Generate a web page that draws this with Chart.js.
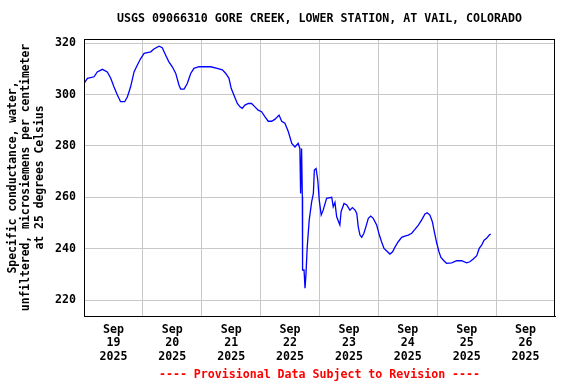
<!DOCTYPE html>
<html>
<head>
<meta charset="utf-8">
<script src="https://cdn.jsdelivr.net/npm/chart.js@4.4.1/dist/chart.umd.min.js"></script>
<style>
html,body{margin:0;padding:0;background:#fff;}
#wrap{width:576px;height:384px;}
</style>
</head>
<body>
<div id="wrap"><canvas id="c" width="576" height="384"></canvas></div>
<script>
// Hours since 2025-09-19 00:00
const hours = [0,1.4,4.1,5.4,7.5,9.5,10.9,12.2,13.6,14.9,16.6,17.7,19,20.4,21.7,23.1,24.5,27.2,28.5,30.6,31.9,33.3,34.6,36,37.4,38.7,39.4,40.8,42.1,43.5,44.8,46.9,48.9,51.6,54.3,56.4,57.8,59.1,60,61.1,62.5,63.6,64.5,65.6,67,68.3,69.7,71,72.4,73.8,75.1,76.5,77.9,79.5,80.6,81.9,83.3,84.7,86,87.3,88,88.3,88.7,89,89.1,89.7,90.1,90.5,91,91.8,92.8,93.5,93.9,94.6,95.3,95.9,96.7,97.5,98.9,101,101.6,102.3,103,104.3,104.8,106,107.1,108.4,109.4,110.5,111.2,111.8,112.5,113.2,114.1,114.9,115.9,116.9,117.9,119.3,120.4,121.3,122.3,123.4,124.7,125.8,126.8,128.1,129.5,130.8,132.2,133.6,134.9,136.3,137.6,139,139.9,141,142,142.8,143.8,144.7,145.5,146.7,147.8,149.9,151.9,153.9,156,157.3,158.7,160.1,161.1,162.1,163.1,164.1,165.2,165.8];
// Specific conductance, microsiemens per cm at 25 C
const conductance = [304.3,306.3,306.9,308.8,309.8,308.8,306.3,303,299.8,297.2,297.2,299.1,303,308.8,311.4,314,316,316.6,317.7,318.8,318.2,315.3,312.7,310.8,308.2,303.7,302.1,302.1,304.3,308.2,310.2,310.8,310.8,310.8,310.2,309.6,308.2,306.3,302.4,299.8,296.5,295.2,294.6,295.9,296.5,296.5,295.2,293.9,293.3,291.3,289.6,289.6,290.4,292,289.6,288.8,285.5,281,279.6,281,279,261.5,279,260.2,231.7,231.7,224.6,230.4,240.7,251.1,258.2,261.5,270.6,271.2,266.7,258.9,253.1,255,259.6,260,256.3,258,252.4,249.2,254.4,257.6,257,255,256,255,253.7,248.5,245.3,244.4,246,248.5,251.8,252.7,251.8,249.2,245.3,242.7,240.1,239.1,237.9,238.8,240.7,242.7,244.4,244.9,245.3,246,247.5,249.2,251.1,253.5,254,253.1,250.5,246.6,242.1,238.8,236.6,235.3,234.3,234.5,235.3,235.3,234.5,234.9,236,237.3,240.1,241.4,243.3,244,245.3,245.7];
const dayLabels = ['19','20','21','22','23','24','25','26'];
const monthLabel = 'Sep';
const yearLabel = '2025';
const yTicks = [220,240,260,280,300,320];
const titleText = 'USGS 09066310 GORE CREEK, LOWER STATION, AT VAIL, COLORADO';
const yTitle = ['Specific conductance, water,','unfiltered, microsiemens per centimeter','at 25 degrees Celsius'];
const footerText = '---- Provisional Data Subject to Revision ----';

const FONT = 'DejaVu Sans Mono';
const points = hours.map((h,i)=>({x:h,y:conductance[i]}));

const framePlugin = {
  id:'frame',
  afterDraw(chart){
    const {ctx, chartArea:a} = chart;
    ctx.save();
    ctx.strokeStyle='#000'; ctx.lineWidth=1;
    ctx.strokeRect(Math.round(a.left)+0.5, Math.round(a.top)+0.5, Math.round(a.right-a.left)-1, Math.round(a.bottom-a.top));
    ctx.fillStyle='#000';
    ctx.font='bold 11.6px "'+FONT+'"';
    ctx.textAlign='center'; ctx.textBaseline='middle';
    const cx=(a.left+a.right)/2;
    ctx.fillText(titleText, cx, 19);
    ctx.fillStyle='#ff0000';
    ctx.fillText(footerText, cx, 375);
    ctx.restore();
  }
};

new Chart(document.getElementById('c'), {
  type:'line',
  data:{datasets:[{data:points, borderColor:'#0000ff', borderWidth:1.3, pointRadius:0, tension:0, fill:false}]},
  options:{
    responsive:false, animation:false,
    layout:{padding:{top:39,right:21,left:0,bottom:0}},
    plugins:{legend:{display:false}, tooltip:{enabled:false}},
    scales:{
      x:{type:'linear', min:0, max:192,
        afterBuildTicks(axis){ const t=[]; for(let v=0; v<=192; v+=12) t.push({value:v}); axis.ticks=t; },
        afterFit(s){ s.height=68; },
        ticks:{autoSkip:false, maxRotation:0, minRotation:0, padding:7, color:'#000',
          font:{family:FONT, size:11.6, weight:'bold', lineHeight:1.17},
          callback(v){ if(v%24===12){ const d=(v-12)/24; return [monthLabel, dayLabels[d], yearLabel]; } return ''; }},
        grid:{drawTicks:false, color(ctx){ const v=ctx.tick&&ctx.tick.value; return (v%24===0 && v>0 && v<192)?'#c8c8c8':'rgba(0,0,0,0)'; }},
        border:{display:true, color:'#000'}
      },
      y:{type:'linear', min:213.8, max:321.6,
        afterBuildTicks(axis){ axis.ticks=yTicks.map(v=>({value:v})); },
        afterFit(s){ s.width=84; },
        ticks:{padding:8, color:'#000', font:{family:FONT, size:11.6, weight:'bold'}},
        grid:{drawTicks:false, color:'#c8c8c8'},
        border:{display:true, color:'#000'},
        title:{display:true, text:yTitle, color:'#000', padding:{top:6,bottom:0},
          font:{family:FONT, size:11.4, weight:'bold', lineHeight:1.18}}
      }
    }
  },
  plugins:[framePlugin]
});
</script>
</body>
</html>
